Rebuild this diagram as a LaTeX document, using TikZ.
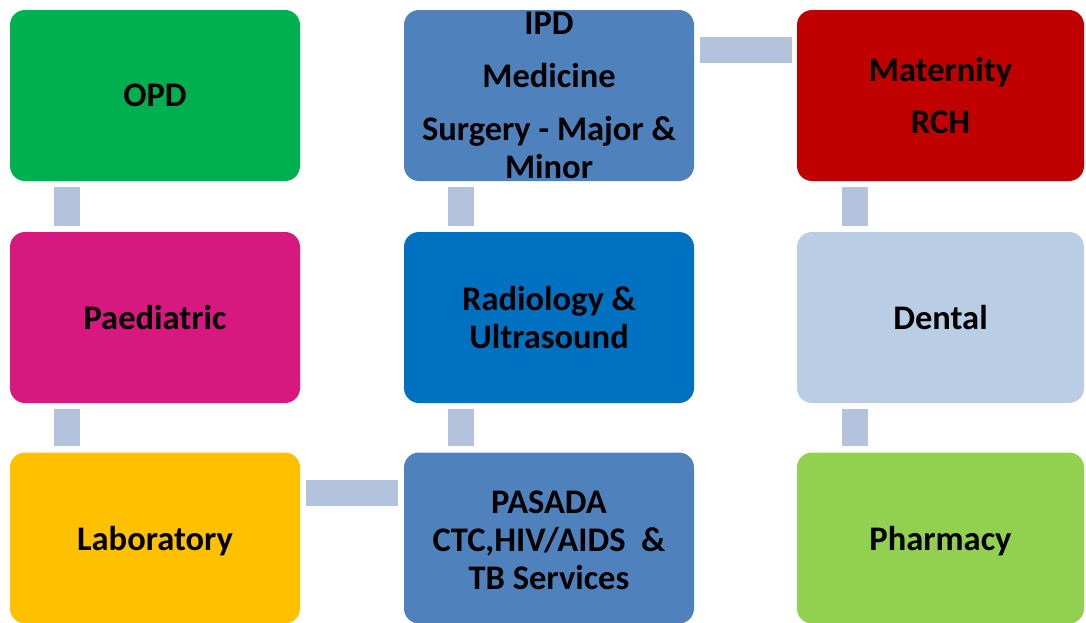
\documentclass[tikz,border=0pt]{standalone}
\usepackage{fontspec}
\setmainfont{Carlito}
\usetikzlibrary{calc}
\definecolor{cOPD}{HTML}{00B050}
\definecolor{cPaed}{HTML}{D6187F}
\definecolor{cLab}{HTML}{FFC000}
\definecolor{cIPD}{HTML}{4F81BD}
\definecolor{cRad}{HTML}{0070C0}
\definecolor{cMat}{HTML}{C00000}
\definecolor{cDen}{HTML}{B9CDE5}
\definecolor{cPha}{HTML}{92D050}
\definecolor{cBar}{HTML}{B3C2DD}
\tikzset{
  box/.style={rectangle, rounded corners=15pt, minimum width=290pt, minimum height=171pt, inner sep=0pt, draw=none},
  lbl/.style={align=center, inner sep=0pt, text=black, font={\fontsize{34.5}{38}\selectfont\bfseries}},
  bar/.style={draw=cBar, line width=26pt}
}
\begin{document}
\begin{tikzpicture}[x=1pt, y=-1pt]
\useasboundingbox (0,0) rectangle (1086,622);
\clip (0,0) rectangle (1086,622);
% column 1
\node[box, fill=cOPD] (opd) at (155,95.5) {};
\node[box, fill=cPaed] (paed) at (155,317.5) {};
\node[box, fill=cLab] (lab) at (155,538) {};
% column 2
\node[box, fill=cIPD] (ipd) at (549,95.5) {};
\node[box, fill=cRad] (rad) at (549,317.5) {};
\node[box, fill=cIPD] (pas) at (549,538) {};
% column 3
\node[box, fill=cMat, minimum width=287pt] (mat) at (940.5,95.5) {};
\node[box, fill=cDen, minimum width=287pt] (den) at (940.5,317.5) {};
\node[box, fill=cPha, minimum width=287pt] (pha) at (940.5,538) {};
% labels
\node[lbl] (topd) at (opd.center) {OPD};
\node[lbl] (tpaed) at (paed.center) {Paediatric};
\node[lbl] (tlab) at ($(lab.center)+(0,3)$) {Laboratory};
\node[lbl] (tipd) at (ipd.center) {IPD\\[15pt]Medicine\\[15pt]Surgery - Major \&\\Minor};
\node[lbl] (trad) at (rad.center) {Radiology \&\\Ultrasound};
\node[lbl] (tpas) at ($(pas.center)+(0,2)$) {PASADA\\CTC,HIV/AIDS\ \ \&\\TB Services};
\node[lbl] (tmat) at (mat.center) {Maternity\\[14pt]RCH};
\node[lbl] (tden) at (den.center) {Dental};
\node[lbl] (tpha) at ($(pha.center)+(0,3)$) {Pharmacy};
% connectors
\draw[bar] ($(opd.south west)+(57.5,6)$) -- ($(paed.north west)+(57.5,-6)$);
\draw[bar] ($(paed.south west)+(57.5,6)$) -- ($(lab.north west)+(57.5,-6)$);
\draw[bar] ($(ipd.south west)+(57.5,6)$) -- ($(rad.north west)+(57.5,-6)$);
\draw[bar] ($(rad.south west)+(57.5,6)$) -- ($(pas.north west)+(57.5,-6)$);
\draw[bar] ($(mat.south west)+(58.5,6)$) -- ($(den.north west)+(58.5,-6)$);
\draw[bar] ($(den.south west)+(58.5,6)$) -- ($(pha.north west)+(58.5,-6)$);
\draw[bar] ($(ipd.north east)+(6,40)$) -- ($(mat.north west)+(-5,40)$);
\draw[bar] ($(lab.north east)+(6,41)$) -- ($(pas.north west)+(-6,41)$);
\end{tikzpicture}
\end{document}
